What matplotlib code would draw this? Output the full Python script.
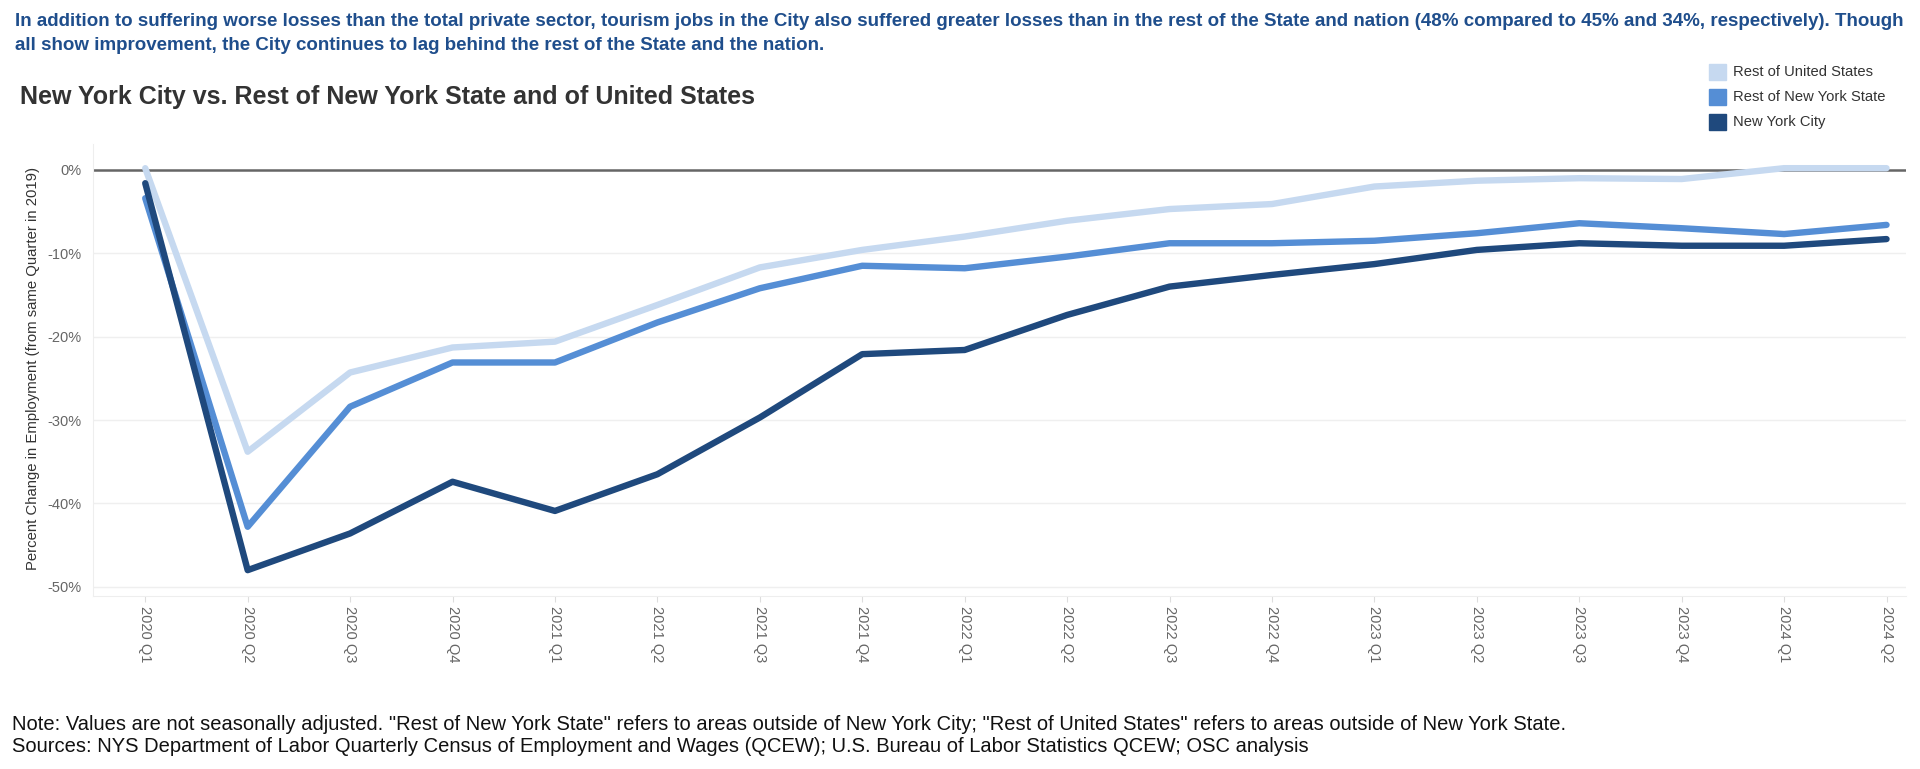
import numpy as np
import matplotlib
matplotlib.use("Agg")
import matplotlib.pyplot as plt
from matplotlib.patches import Rectangle

plt.rcParams['font.family'] = ['Liberation Sans', 'DejaVu Sans']

#### Data ####
quarters = ["2020 Q1", "2020 Q2", "2020 Q3", "2020 Q4",
            "2021 Q1", "2021 Q2", "2021 Q3", "2021 Q4",
            "2022 Q1", "2022 Q2", "2022 Q3", "2022 Q4",
            "2023 Q1", "2023 Q2", "2023 Q3", "2023 Q4",
            "2024 Q1", "2024 Q2"]

rest_us = [0.2, -33.8, -24.3, -21.3, -20.6, -16.2, -11.7, -9.6, -8.0,
           -6.1, -4.7, -4.1, -2.0, -1.3, -1.0, -1.1, 0.2, 0.2]
rest_nys = [-3.4, -42.8, -28.4, -23.1, -23.1, -18.3, -14.2, -11.5, -11.8,
            -10.4, -8.8, -8.8, -8.5, -7.6, -6.4, -7.0, -7.7, -6.6]
nyc = [-1.6, -48.0, -43.6, -37.4, -40.9, -36.5, -29.7, -22.1, -21.6,
       -17.4, -14.0, -12.6, -11.3, -9.6, -8.8, -9.1, -9.1, -8.3]

series_names = ["Rest of United States", "Rest of New York State", "New York City"]
colors = ["#c6d9f0", "#558ed5", "#1f497d"]

yticks = [0, -10, -20, -30, -40, -50]

#### Figure ####
W, H = 1920, 769
fig = plt.figure(figsize=(W / 100, H / 100), dpi=100)

# axes box in pixels: left 93, right 1906, top 144, bottom 596
ax = fig.add_axes([93 / W, 1 - 596 / H, (1906 - 93) / W, (596 - 144) / H])

x = np.arange(len(quarters))
ax.axhline(0, color="#666666", lw=1.8, zorder=2)
for vals, c in zip([rest_us, rest_nys, nyc], colors):
    ax.plot(x, vals, color=c, lw=4.6, solid_capstyle="round",
            solid_joinstyle="round", zorder=3)

ax.set_xlim(-0.51, 17.19)
ax.set_ylim(-51.1, 3.1)
ax.set_yticks(yticks)
ax.set_yticklabels([f"{v}%" for v in yticks])
ax.set_xticks(x)
ax.set_xticklabels(quarters, rotation=-90, va="top", ha="center")

ax.grid(axis="y", color="#efefef", lw=1)
ax.set_axisbelow(True)
for s in ["top", "right"]:
    ax.spines[s].set_visible(False)
ax.spines["left"].set_color("#eeeeee")
ax.spines["bottom"].set_color("#eeeeee")
ax.tick_params(axis="y", length=0, pad=8, labelsize=10.5, labelcolor="#666666")
ax.tick_params(axis="x", length=4, color="#dddddd", pad=3, labelsize=10.5,
               labelcolor="#666666")

fig.text(33 / W, 1 - 368 / H,
         "Percent Change in Employment (from same Quarter in 2019)",
         rotation=90, ha="center", va="center", fontsize=10.7, color="#333333")

# texts
sub_color = "#1f4e8c"
fig.text(15 / W, 1 - 21 / H,
         "In addition to suffering worse losses than the total private sector, tourism jobs in the City also suffered greater losses than in the rest of the State and nation (48% compared to 45% and 34%, respectively). Though",
         ha="left", va="center", fontsize=13.5, fontweight="bold", color=sub_color)
fig.text(15 / W, 1 - 45 / H,
         "all show improvement, the City continues to lag behind the rest of the State and the nation.",
         ha="left", va="center", fontsize=13.5, fontweight="bold", color=sub_color)
fig.text(20 / W, 1 - 97 / H, "New York City vs. Rest of New York State and of United States",
         ha="left", va="center", fontsize=18, fontweight="bold", color="#333333")

fig.text(12 / W, 1 - 725 / H,
         'Note: Values are not seasonally adjusted. "Rest of New York State" refers to areas outside of New York City; "Rest of United States" refers to areas outside of New York State.',
         ha="left", va="center", fontsize=14.5, color="#111111")
fig.text(12 / W, 1 - 747 / H,
         "Sources: NYS Department of Labor Quarterly Census of Employment and Wages (QCEW); U.S. Bureau of Labor Statistics QCEW; OSC analysis",
         ha="left", va="center", fontsize=14.5, color="#111111")

# legend
for i, (name, c) in enumerate(zip(series_names, colors)):
    yc = 72 + i * 25
    fig.patches.append(Rectangle((1709 / W, 1 - (yc + 8) / H), 17 / W, 16 / H,
                                 transform=fig.transFigure, color=c))
    fig.text(1733 / W, 1 - yc / H, name, ha="left", va="center",
             fontsize=10.6, color="#333333")

fig.savefig("out.png", dpi=100)
